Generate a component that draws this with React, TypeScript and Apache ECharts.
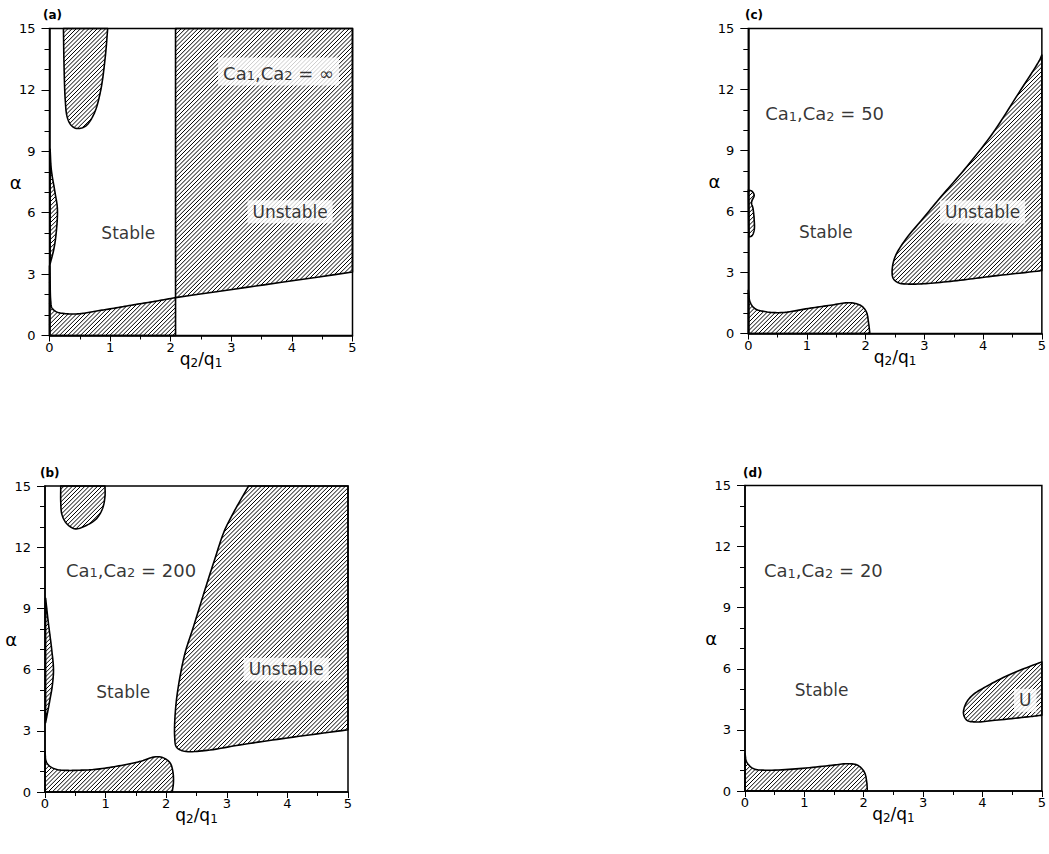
import React, { useEffect, useRef } from "react";
import * as echarts from "echarts";

const FONT = "DejaVu Sans";

// Axis ranges and ticks
const X_MIN = 0;
const X_MAX = 5;
const X_STEP = 1;
const Y_MIN = 0;
const Y_MAX = 15;
const Y_STEP = 3;

const panelTags = ["(a)", "(b)", "(c)", "(d)"];
const caValues = ["∞", "200", "50", "20"];
const caLabel = (v: string) => `{n|Ca}{s|1}{n|,Ca}{s|2}{n| = ${v}}`;

// ---- Panel (a): Ca = infinity ----
const aTopLobe = [[0.23, 15], [0.24, 13.2], [0.26, 11.5], [0.29, 10.7], [0.35, 10.3], [0.44, 10.12], [0.59, 10.22], [0.73, 10.8], [0.84, 11.9], [0.92, 13.6], [0.96, 15]];
const aSliver = [[0.01, 9.1], [0.03, 8.1], [0.09, 7.0], [0.13, 6.2], [0.11, 5.0], [0.07, 4.2], [0.01, 3.5]];
const aBottom = [[0, 0], [0, 3.4], [0.01, 2.5], [0.02, 1.7], [0.04, 1.35], [0.12, 1.15], [0.25, 1.07], [0.4, 1.05], [0.55, 1.08], [0.78, 1.2], [1.0, 1.3], [1.35, 1.48], [1.7, 1.65], [2.08, 1.85], [2.08, 0]];
const aUnstable = [[2.08, 1.85], [5, 3.1], [5, 15], [2.08, 15]];
const aLabels = [[1.3, 5.0, "Stable"], [3.97, 6.05, "Unstable"], [3.78, 12.9, caLabel(caValues[0])]];

// ---- Panel (b): Ca = 200 ----
const bTopLobe = [[0.26, 15], [0.26, 14.2], [0.28, 13.6], [0.36, 13.15], [0.5, 12.9], [0.69, 13.08], [0.85, 13.4], [0.95, 13.9], [0.99, 14.5], [0.99, 15]];
const bSliver = [[0.01, 9.5], [0.055, 8.3], [0.11, 7.0], [0.14, 6.0], [0.12, 5.2], [0.08, 4.5], [0.01, 3.4]];
const bBottom = [[0, 0], [0, 2.0], [0.02, 1.5], [0.08, 1.26], [0.2, 1.1], [0.36, 1.06], [0.6, 1.07], [0.8, 1.1], [1.18, 1.26], [1.57, 1.5], [1.79, 1.71], [1.9, 1.72], [1.99, 1.62], [2.07, 1.4], [2.11, 1.0], [2.12, 0.5], [2.1, 0]];
const bUnstable = [[3.36, 15], [3.13, 13.8], [2.96, 12.8], [2.8, 11.4], [2.62, 9.73], [2.45, 8.1], [2.31, 6.8], [2.2, 5.17], [2.15, 3.9], [2.14, 2.7], [2.17, 2.2], [2.3, 2.0], [2.67, 2.04], [3.22, 2.31], [4.0, 2.65], [5, 3.05], [5, 15]];
const bLabels = [[1.29, 4.92, "Stable"], [3.98, 6.02, "Unstable"], [1.42, 10.96, caLabel(caValues[1])]];

// ---- Panel (c): Ca = 50 ----
const cLobe = [[0, 7.05], [0.06, 7.0], [0.1, 6.8], [0.055, 6.45], [0.08, 6.15], [0.1, 5.6], [0.1, 5.08], [0.06, 4.8], [0.01, 4.75]];
const cBottom = [[0, 0], [0, 2.13], [0.03, 1.56], [0.11, 1.23], [0.3, 1.07], [0.58, 1.03], [1.02, 1.23], [1.4, 1.39], [1.68, 1.51], [1.82, 1.48], [1.93, 1.35], [2.01, 1.07], [2.05, 0.49], [2.07, 0]];
const cUnstable = [[5, 13.7], [4.96, 13.44], [4.6, 11.8], [4.16, 9.84], [3.72, 8.2], [3.28, 6.72], [2.95, 5.57], [2.67, 4.59], [2.5, 3.77], [2.45, 3.11], [2.47, 2.7], [2.56, 2.49], [2.73, 2.43], [3.06, 2.46], [3.61, 2.62], [4.16, 2.82], [4.96, 3.08], [5, 3.1]];
const cLabels = [[1.32, 5.0, "Stable"], [3.99, 5.98, "Unstable"], [1.3, 10.9, caLabel(caValues[2])]];

// ---- Panel (d): Ca = 20 ----
const dBottom = [[0, 0], [0, 1.83], [0.03, 1.42], [0.14, 1.1], [0.36, 1.02], [0.91, 1.1], [1.46, 1.26], [1.73, 1.34], [1.9, 1.26], [2.01, 0.93], [2.05, 0.44], [2.06, 0]];
const dUnstable = [[5, 6.34], [4.49, 5.76], [4.05, 5.11], [3.83, 4.7], [3.72, 4.29], [3.68, 3.8], [3.74, 3.47], [3.88, 3.39], [4.21, 3.47], [4.76, 3.64], [5, 3.72]];
const dLabels = [[1.29, 4.95, "Stable"], [4.72, 4.45, "U"], [1.32, 10.92, caLabel(caValues[3])]];

// panel order: a, b, c, d (grid index)
const panelRegions = [
  [aTopLobe, aSliver, aBottom, aUnstable],
  [bTopLobe, bSliver, bBottom, bUnstable],
  [cLobe, cBottom, cUnstable],
  [dBottom, dUnstable],
];
const panelLabels = [aLabels, bLabels, cLabels, dLabels];

const GRIDS = [
  { left: 49.5, top: 28.5, width: 303, height: 307 },
  { left: 45, top: 486, width: 303, height: 306 },
  { left: 748.3, top: 28.5, width: 303, height: 305 },
  { left: 745, top: 485.5, width: 303, height: 305.5 },
];
const TAG_POS = [
  { left: 43, top: 9 },
  { left: 40, top: 467 },
  { left: 745, top: 9 },
  { left: 743, top: 467 },
];

const HATCH = 4.2;

// visual smoothing of the outline (centripetal Catmull-Rom), sharp corners kept
function isCorner(prev: number[], p: number[], next: number[]) {
  const ax = p[0] - prev[0], ay = p[1] - prev[1];
  const bx = next[0] - p[0], by = next[1] - p[1];
  const la = Math.hypot(ax, ay), lb = Math.hypot(bx, by);
  if (la < 1e-6 || lb < 1e-6) return true;
  const cos = (ax * bx + ay * by) / (la * lb);
  return cos < Math.cos((55 * Math.PI) / 180);
}

function smoothClosed(pts: number[][]) {
  const n = pts.length;
  const corner = pts.map((p, i) => isCorner(pts[(i - 1 + n) % n], p, pts[(i + 1) % n]));
  const out: number[][] = [];
  const lerp = (a: number[], b: number[], ta: number, tb: number, t: number) => {
    const d = tb - ta;
    if (Math.abs(d) < 1e-9) return a;
    const u = (t - ta) / d;
    return [a[0] + (b[0] - a[0]) * u, a[1] + (b[1] - a[1]) * u];
  };
  for (let i = 0; i < n; i++) {
    const i2 = (i + 1) % n;
    const P1 = pts[i];
    const P2 = pts[i2];
    const P0 = corner[i] ? [2 * P1[0] - P2[0], 2 * P1[1] - P2[1]] : pts[(i - 1 + n) % n];
    const P3 = corner[i2] ? [2 * P2[0] - P1[0], 2 * P2[1] - P1[1]] : pts[(i + 2) % n];
    const d = (a: number[], b: number[]) => Math.max(Math.sqrt(Math.hypot(b[0] - a[0], b[1] - a[1])), 1e-4);
    const t0 = 0;
    const t1 = t0 + d(P0, P1);
    const t2 = t1 + d(P1, P2);
    const t3 = t2 + d(P2, P3);
    const steps = 10;
    for (let k = 0; k < steps; k++) {
      const t = t1 + ((t2 - t1) * k) / steps;
      const A1 = lerp(P0, P1, t0, t1, t);
      const A2 = lerp(P1, P2, t1, t2, t);
      const A3 = lerp(P2, P3, t2, t3, t);
      const B1 = lerp(A1, A2, t0, t2, t);
      const B2 = lerp(A2, A3, t1, t3, t);
      out.push(lerp(B1, B2, t1, t2, t));
    }
  }
  return out;
}

function hatchSegments(pts: number[][]) {
  const f = (p: number[]) => p[0] + p[1];
  let cMin = Infinity;
  let cMax = -Infinity;
  pts.forEach((p) => {
    cMin = Math.min(cMin, f(p));
    cMax = Math.max(cMax, f(p));
  });
  const segs: number[][] = [];
  for (let c = Math.ceil(cMin / HATCH) * HATCH; c <= cMax; c += HATCH) {
    const xs: number[] = [];
    for (let i = 0; i < pts.length; i++) {
      const p = pts[i];
      const q = pts[(i + 1) % pts.length];
      const fp = f(p) - c;
      const fq = f(q) - c;
      if ((fp < 0) !== (fq < 0)) {
        const t = fp / (fp - fq);
        xs.push(p[0] + t * (q[0] - p[0]));
      }
    }
    xs.sort((u, v) => u - v);
    for (let k = 0; k + 1 < xs.length; k += 2) {
      segs.push([xs[k], c - xs[k], xs[k + 1], c - xs[k + 1]]);
    }
  }
  return segs;
}

function regionSeries(poly: number[][], gi: number) {
  return {
    type: "custom",
    xAxisIndex: gi,
    yAxisIndex: gi,
    data: poly,
    encode: { x: 0, y: 1 },
    silent: true,
    z: 2,
    renderItem: (params: any, api: any) => {
      if (params.dataIndex !== 0) return null;
      const raw = poly.map((p) => api.coord(p));
      const pts = smoothClosed(raw);
      const children: any[] = hatchSegments(pts).map((s) => ({
        type: "line",
        shape: { x1: s[0], y1: s[1], x2: s[2], y2: s[3] },
        style: { stroke: "#000", lineWidth: 1.0 },
      }));
      children.push({
        type: "polygon",
        shape: { points: pts },
        style: { fill: "none", stroke: "#000", lineWidth: 1.6, lineJoin: "round" },
      });
      return { type: "group", children };
    },
  };
}

const richStyles = {
  n: { fontSize: 18, fontFamily: FONT, color: "#000", lineHeight: 22, verticalAlign: "bottom" },
  s: { fontSize: 13, fontFamily: FONT, color: "#000", lineHeight: 13, verticalAlign: "bottom" },
};

function labelSeries(items: any[], gi: number) {
  return {
    type: "scatter",
    xAxisIndex: gi,
    yAxisIndex: gi,
    z: 5,
    silent: true,
    symbolSize: 1,
    itemStyle: { color: "rgba(0,0,0,0)" },
    data: items.map((it) => ({ value: [it[0], it[1]], name: it[2] })),
    label: {
      show: true,
      position: "inside",
      formatter: (p: any) => p.name,
      color: "#000",
      fontFamily: FONT,
      fontSize: 17,
      backgroundColor: "#fff",
      padding: [3, 5],
      rich: richStyles,
    },
  };
}

export default function App() {
  const ref = useRef<HTMLDivElement>(null);
  useEffect(() => {
    if (!ref.current) return;
    const chart = echarts.init(ref.current, null, { renderer: "svg" });
    const series: any[] = [];
    panelRegions.forEach((regs, gi) => regs.forEach((r) => series.push(regionSeries(r, gi))));
    panelLabels.forEach((labs, gi) => series.push(labelSeries(labs, gi)));

    const option: any = {
      animation: false,
      backgroundColor: "#fff",
      grid: GRIDS.map((g) => ({
        ...g,
        show: true,
        borderColor: "#000",
        borderWidth: 1.5,
        backgroundColor: "transparent",
        containLabel: false,
      })),
      xAxis: GRIDS.map((_, gi) => ({
        gridIndex: gi,
        type: "value",
        min: X_MIN,
        max: X_MAX,
        interval: X_STEP,
        axisLine: { show: true, lineStyle: { color: "#000", width: 1.5 } },
        axisTick: { show: true, length: 6, lineStyle: { color: "#000", width: 1 } },
        minorTick: { show: true, splitNumber: 2, length: 4, lineStyle: { color: "#000", width: 1 } },
        splitLine: { show: false },
        axisLabel: { color: "#000", fontSize: 13, fontFamily: FONT, margin: 5 },
        name: "q{s|2}/q{s|1}",
        nameLocation: "middle",
        nameGap: 13,
        nameMoveOverlap: false,
        nameTextStyle: {
          color: "#000",
          fontSize: 17,
          fontFamily: FONT,
          rich: {
            s: { fontSize: 12, fontFamily: FONT, color: "#000", lineHeight: 12, verticalAlign: "bottom" },
          },
          lineHeight: 20,
        },
      })),
      yAxis: GRIDS.map((_, gi) => ({
        gridIndex: gi,
        type: "value",
        min: Y_MIN,
        max: Y_MAX,
        interval: Y_STEP,
        axisLine: { show: true, lineStyle: { color: "#000", width: 1.5 } },
        axisTick: { show: true, length: 8, lineStyle: { color: "#000", width: 1 } },
        minorTick: { show: true, splitNumber: 3, length: 5, lineStyle: { color: "#000", width: 1 } },
        splitLine: { show: false },
        axisLabel: { color: "#000", fontSize: 13, fontFamily: FONT, margin: 14 },
        name: "α",
        nameLocation: "middle",
        nameRotate: 0,
        nameGap: 28,
        nameMoveOverlap: false,
        nameTextStyle: { color: "#000", fontSize: 18, fontFamily: FONT },
      })),
      graphic: panelTags.map((t, i) => ({
        type: "text",
        left: TAG_POS[i].left,
        top: TAG_POS[i].top,
        style: { text: t, fill: "#000", font: `bold 12px ${FONT}` },
      })),
      series,
    };
    chart.setOption(option);
    return () => chart.dispose();
  }, []);
  return (
    <div
      ref={ref}
      style={{ position: "absolute", left: 0, top: 0, width: 1049, height: 854, background: "#fff" }}
    />
  );
}
